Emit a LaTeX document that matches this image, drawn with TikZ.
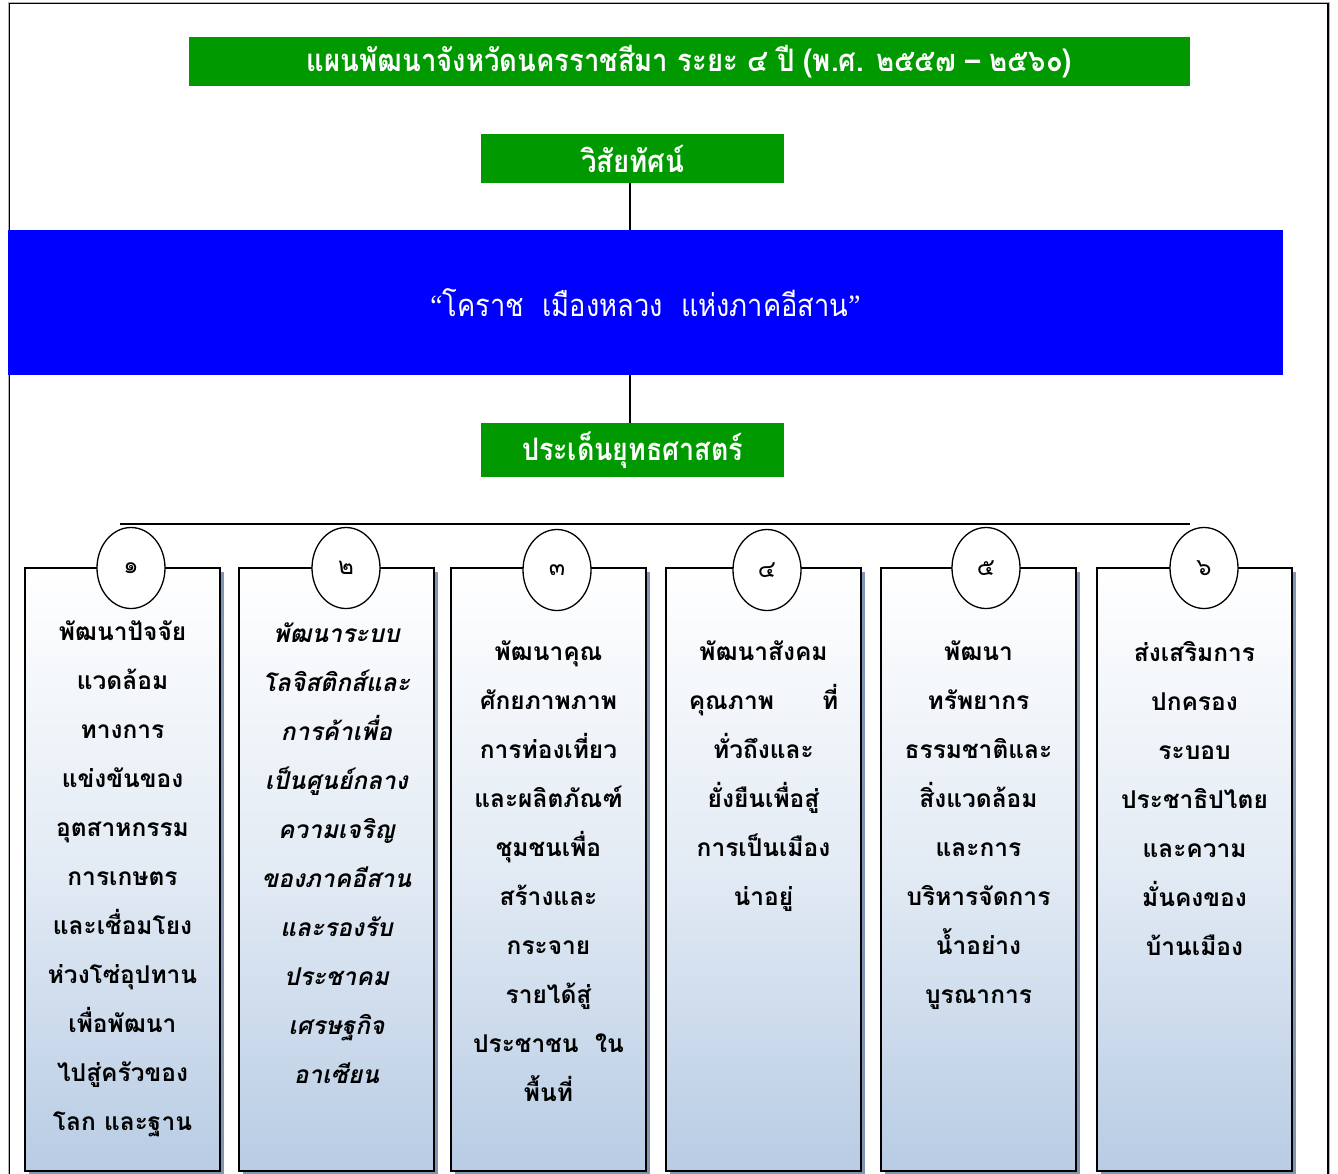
\documentclass[tikz,border=0pt]{standalone}
\usepackage{fontspec}
\usepackage{graphicx}
\newfontfamily\thai[Script=Thai]{Loma}
\newfontfamily\quotefont{Liberation Serif}
\usetikzlibrary{shapes.geometric}
\definecolor{tgreen}{HTML}{009900}
\definecolor{tblue}{HTML}{0000FF}
\definecolor{colbot}{HTML}{B8CCE4}
\definecolor{colshadow}{HTML}{8096B4}
\tikzset{
  greenbox/.style={fill=tgreen, text=white, inner sep=0pt, font={\thai\bfseries\fontsize{31}{34}\selectfont}},
  conn/.style={draw=black, line width=1.6pt},
  colbox/.style={draw=black, line width=2pt, top color=white, bottom color=colbot, middle color=white!60!colbot},
  numcirc/.style={ellipse, draw=black, line width=1.3pt, fill=white, minimum width=68pt, minimum height=81pt, inner sep=0pt, font={\thai\fontsize{24}{26}\selectfont}},
  coltext/.style={anchor=north, inner sep=0pt, align=center, font={\thai\bfseries\fontsize{24.5}{49}\selectfont}},
}
\begin{document}
\begin{tikzpicture}[x=1pt,y=-1pt]
\useasboundingbox (0,0) rectangle (1338,1173);
\clip (0,0) rectangle (1338,1173);
% outer frame
\draw[gray!60, line width=1pt] (8,2) rectangle (1329.5,1200);
\draw[black, line width=1.6pt] (9.5,3.5) rectangle (1328,1200);
% title
\node[greenbox, minimum width=1001pt, minimum height=49pt] (title) at (689.5,61.5)
  {\resizebox{765pt}{\height}{แผนพัฒนาจังหวัดนครราชสีมา ระยะ ๔ ปี (พ.ศ. ๒๕๕๗ – ๒๕๖๐)}};
% vision
\node[greenbox, minimum width=303pt, minimum height=49pt] (vision) at (632.5,158.5)
  {\resizebox{103pt}{\height}{วิสัยทัศน์}};
% band
\node[fill=tblue, text=white, inner sep=0pt, minimum width=1275pt, minimum height=145pt,
  font={\thai\fontsize{31}{34}\selectfont}] (band) at (645.5,302.5)
  {\resizebox{430pt}{\height}{{\quotefont “}โคราช\ \ เมืองหลวง\ \ แห่งภาคอีสาน{\quotefont ”}}};
% strategy
\node[greenbox, minimum width=303pt, minimum height=54pt] (strategy) at (632.5,450)
  {\resizebox{221pt}{\height}{ประเด็นยุทธศาสตร์}};
\draw[conn] (vision.south -| 630,0) -- (band.north -| 630,0);
\draw[conn] (band.south -| 630,0) -- (strategy.north -| 630,0);
% horizontal bar
\coordinate (hl) at (120,524);
\coordinate (hr) at (1190,524);
\draw[conn] (hl) -- (hr);
% columns
\foreach \i/\x/\cx in {1/25/131, 2/239/346, 3/451/557, 4/666/767, 5/881/986, 6/1097/1204}{
  \fill[colshadow] (\x+4,572) rectangle (\x+199,1175);
  \draw[colbox] (\x,568) rectangle (\x+195,1171);
}
\node[numcirc] (c1) at (131,568) {๑};
\node[numcirc] (c2) at (346,568) {๒};
\node[numcirc] (c3) at (557,570) {๓};
\node[numcirc] (c4) at (767,570) {๔};
\node[numcirc] (c5) at (986,568) {๕};
\node[numcirc] (c6) at (1204,568) {๖};
% column texts
\node[coltext] (t1) at (122.5,621) {พัฒนาปัจจัย\\แวดล้อม\\ทางการ\\แข่งขันของ\\อุตสาหกรรม\\การเกษตร\\และเชื่อมโยง\\ห่วงโซ่อุปทาน\\เพื่อพัฒนา\\ไปสู่ครัวของ\\โลก และฐาน};
\node[coltext, font={\thai\bfseries\itshape\fontsize{24.5}{49}\selectfont}] (t2) at (336.5,623) {พัฒนาระบบ\\โลจิสติกส์และ\\การค้าเพื่อ\\เป็นศูนย์กลาง\\ความเจริญ\\ของภาคอีสาน\\และรองรับ\\ประชาคม\\เศรษฐกิจ\\อาเซียน};
\node[coltext] (t3) at (548.5,641) {พัฒนาคุณ\\ศักยภาพภาพ\\การท่องเที่ยว\\และผลิตภัณฑ์\\ชุมชนเพื่อ\\สร้างและ\\กระจาย\\รายได้สู่\\ประชาชน\ \ ใน\\พื้นที่};
\node[coltext] (t4) at (763.5,641) {พัฒนาสังคม\\คุณภาพ\hspace{48pt}ที่\\ทั่วถึงและ\\ยั่งยืนเพื่อสู่\\การเป็นเมือง\\น่าอยู่};
\node[coltext] (t5) at (978.5,641) {พัฒนา\\ทรัพยากร\\ธรรมชาติและ\\สิ่งแวดล้อม\\และการ\\บริหารจัดการ\\น้ำอย่าง\\บูรณาการ};
\node[coltext] (t6) at (1194.5,641) {ส่งเสริมการ\\ปกครอง\\ระบอบ\\ประชาธิปไตย\\และความ\\มั่นคงของ\\บ้านเมือง};
\end{tikzpicture}
\end{document}
